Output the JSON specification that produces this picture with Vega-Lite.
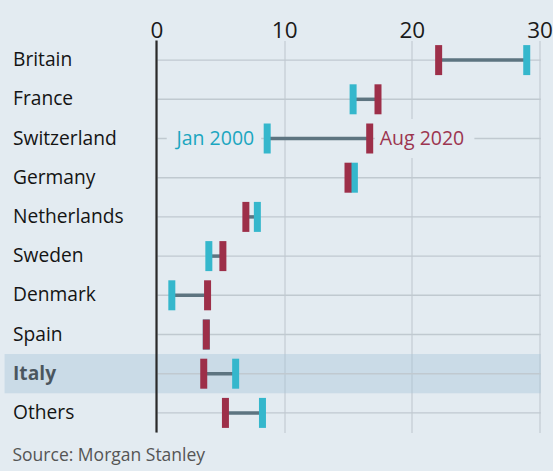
{
  "$schema": "https://vega.github.io/schema/vega-lite/v6.json",
  "width": 383,
  "height": 392,
  "autosize": "none",
  "padding": {"left": 156.5, "top": 40.5, "right": 13.5, "bottom": 38.5},
  "background": "#e3ebf1",
  "config": {"view": {"stroke": null}, "font": "Open Sans"},
  "title": {"text": "Source: Morgan Stanley", "orient": "bottom", "anchor": "start", "frame": "group", "dx": -144, "offset": 13, "fontSize": 17.5, "fontWeight": "normal", "color": "#555555", "font": "Open Sans"},
  "data": {"values": [
    {"country": "Britain", "jan": 29.0, "aug": 22.1},
    {"country": "France", "jan": 15.4, "aug": 17.35},
    {"country": "Switzerland", "jan": 8.67, "aug": 16.7},
    {"country": "Germany", "jan": 15.5, "aug": 15.0},
    {"country": "Netherlands", "jan": 7.9, "aug": 7.0},
    {"country": "Sweden", "jan": 4.1, "aug": 5.2},
    {"country": "Denmark", "jan": 1.2, "aug": 4.0},
    {"country": "Spain", "jan": 3.9, "aug": 3.9},
    {"country": "Italy", "jan": 6.2, "aug": 3.7},
    {"country": "Others", "jan": 8.3, "aug": 5.4}
  ]},
  "layer": [
    {
      "transform": [{"filter": "datum.country === 'Italy'"}],
      "mark": {"type": "rect", "fill": "#a3c2d8", "fillOpacity": 0.38},
      "encoding": {
        "x": {"datum": -11.9, "type": "quantitative", "scale": {"domain": [0, 30], "nice": false},
          "axis": {"orient": "top", "title": null, "values": [0, 10, 20, 30], "domain": false, "ticks": false, "labelFontSize": 22.5, "labelPadding": 3.5, "labelBaseline": "alphabetic", "labelColor": "#1a1a1a", "labelFont": "Open Sans", "labelFlush": false, "grid": true, "gridColor": "#c3ccd4", "gridWidth": 1.2, "zindex": 0}},
        "x2": {"datum": 30.1},
        "y": {"datum": "Italy", "type": "nominal", "scale": {"domain": ["Britain", "France", "Switzerland", "Germany", "Netherlands", "Sweden", "Denmark", "Spain", "Italy", "Others"], "paddingInner": 0, "paddingOuter": 0},
          "axis": {"title": null, "orient": "left", "domain": false, "ticks": false, "grid": false, "labelAlign": "left", "labelPadding": 144, "labelFontSize": 19.2, "labelColor": "#141414", "labelFont": "Open Sans", "labelLimit": 200, "labelFontWeight": {"condition": {"test": "datum.value === 'Italy'", "value": "bold"}, "value": "normal"}, "zindex": 0}}
      }
    },
    {
      "mark": {"type": "rule", "color": "#c0c9d0", "strokeWidth": 1.4},
      "encoding": {
        "x": {"datum": 0, "type": "quantitative"},
        "x2": {"datum": 30.1},
        "y": {"field": "country", "type": "nominal"}
      }
    },
    {
      "transform": [{"filter": "datum.country === 'Switzerland'"}],
      "mark": {"type": "rect", "color": "#e3ebf1"},
      "encoding": {
        "x": {"datum": 0.8, "type": "quantitative"},
        "x2": {"datum": 8.2},
        "y": {"datum": "Switzerland", "type": "nominal"}
      }
    },
    {
      "transform": [{"filter": "datum.country === 'Switzerland'"}],
      "mark": {"type": "rect", "color": "#e3ebf1"},
      "encoding": {
        "x": {"datum": 17.1, "type": "quantitative"},
        "x2": {"datum": 24.9},
        "y": {"datum": "Switzerland", "type": "nominal"}
      }
    },
    {
      "mark": {"type": "rule", "color": "#5d7480", "strokeWidth": 3.5},
      "encoding": {
        "x": {"field": "jan", "type": "quantitative"},
        "x2": {"field": "aug"},
        "y": {"field": "country", "type": "nominal"}
      }
    },
    {
      "mark": {"type": "tick", "orient": "vertical", "color": "#35b7cc", "thickness": 7, "size": 30, "opacity": 1},
      "encoding": {
        "x": {"field": "jan", "type": "quantitative"},
        "y": {"field": "country", "type": "nominal"}
      }
    },
    {
      "mark": {"type": "tick", "orient": "vertical", "color": "#9d2f49", "thickness": 7, "size": 30, "opacity": 1},
      "encoding": {
        "x": {"field": "aug", "type": "quantitative"},
        "y": {"field": "country", "type": "nominal"}
      }
    },
    {
      "transform": [{"filter": "datum.country === 'Britain'"}],
      "mark": {"type": "rule", "color": "#2a2a2a", "strokeWidth": 2.2},
      "encoding": {
        "x": {"datum": 0, "type": "quantitative"}
      }
    },
    {
      "transform": [{"filter": "datum.country === 'Switzerland'"}],
      "mark": {"type": "text", "align": "right", "baseline": "middle", "dx": -13, "fontSize": 19.5, "color": "#1ba6c0", "font": "Open Sans"},
      "encoding": {
        "x": {"field": "jan", "type": "quantitative"},
        "y": {"field": "country", "type": "nominal"},
        "text": {"value": "Jan 2000"}
      }
    },
    {
      "transform": [{"filter": "datum.country === 'Switzerland'"}],
      "mark": {"type": "text", "align": "left", "baseline": "middle", "dx": 10, "fontSize": 19.5, "color": "#9c3550", "font": "Open Sans"},
      "encoding": {
        "x": {"field": "aug", "type": "quantitative"},
        "y": {"field": "country", "type": "nominal"},
        "text": {"value": "Aug 2020"}
      }
    }
  ]
}
